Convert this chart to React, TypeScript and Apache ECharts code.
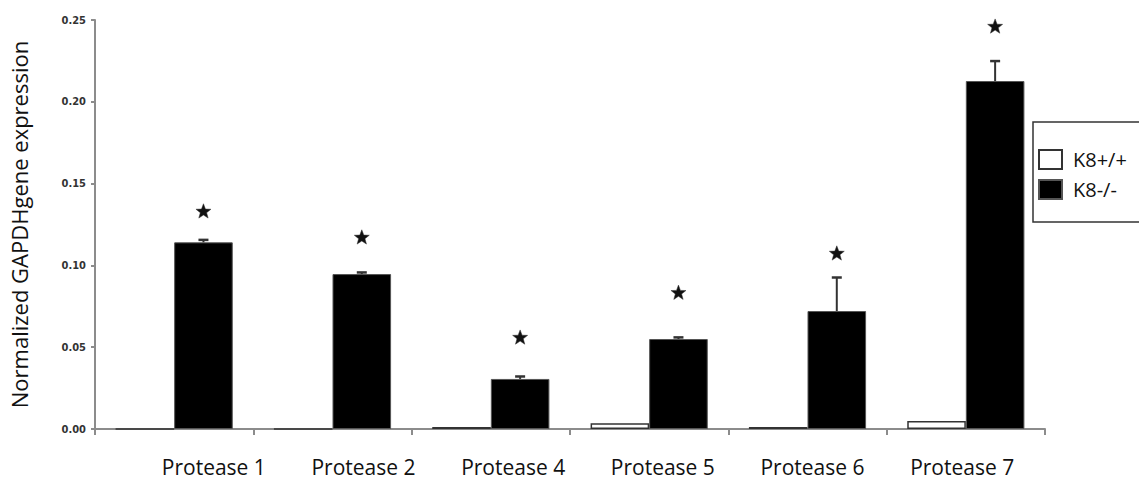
import React, { useEffect, useRef } from "react";
import * as echarts from "echarts";

const categories = ["Protease 1", "Protease 2", "Protease 4", "Protease 5", "Protease 6", "Protease 7"];
const wildType = [0, 0, 0.0012, 0.0035, 0.0012, 0.0049];
const knockout = [0.1141, 0.0947, 0.0306, 0.055, 0.0721, 0.2127];
const knockoutErr = [0.0015, 0.001, 0.0015, 0.001, 0.0205, 0.0122];
const starLevel = [0.1333, 0.1174, 0.0562, 0.0836, 0.1076, 0.2463];
const yTicks = [0, 0.05, 0.1, 0.15, 0.2, 0.25];

const STAR =
  "M0,-1 L0.25,-0.33 L0.95,-0.31 L0.40,0.13 L0.59,0.81 L0,0.42 L-0.59,0.81 L-0.40,0.13 L-0.95,-0.31 L-0.25,-0.33 Z";

export default function App() {
  const ref = useRef<HTMLDivElement>(null);
  useEffect(() => {
    document.body.style.margin = "0";
    const chart = echarts.init(ref.current!, null, { renderer: "svg" });
    const catGap = 0.26;
    chart.setOption({
      animation: false,
      backgroundColor: "#ffffff",
      legend: {
        orient: "vertical",
        left: 1033,
        top: 122,
        data: ["K8+/+", "K8-/-"],
        icon: "rect",
        itemWidth: 23,
        itemHeight: 19,
        itemGap: 9,
        padding: [27, 60, 22, 5],
        borderColor: "#333333",
        borderWidth: 1.5,
        textStyle: { fontFamily: "Open Sans", fontSize: 20, color: "#111111", padding: [0, 0, 0, 6] },
      },
      grid: [
        { left: 95, right: 94, top: 20, bottom: 50 },
        { left: 139, width: 898, top: 20, bottom: 50 },
      ],
      xAxis: [
        {
          type: "category",
          data: categories,
          gridIndex: 0,
          axisLine: { lineStyle: { color: "#8c8c8c", width: 2 } },
          axisTick: { show: true, length: 6, lineStyle: { color: "#8c8c8c", width: 2 } },
          axisLabel: { show: false },
        },
        {
          type: "category",
          data: categories,
          gridIndex: 1,
          axisLine: { show: false },
          axisTick: { show: false },
          axisLabel: {
            margin: 27,
            fontFamily: "Open Sans",
            fontSize: 21,
            color: "#111111",
          },
        },
      ],
      yAxis: [
        {
          type: "value",
          gridIndex: 0,
          min: yTicks[0],
          max: yTicks[yTicks.length - 1],
          interval: 0.05,
          name: "Normalized GAPDHgene expression",
          nameLocation: "middle",
          nameGap: 65,
          nameTextStyle: { fontFamily: "Open Sans", fontSize: 22, color: "#111111" },
          splitLine: { show: false },
          axisLine: { show: true, lineStyle: { color: "#8c8c8c", width: 2 } },
          axisTick: { show: true, length: 4, lineStyle: { color: "#8c8c8c", width: 2 } },
          axisLabel: {
            formatter: (v: number) => v.toFixed(2),
            fontFamily: "DejaVu Sans Condensed",
            fontWeight: "bold",
            fontSize: 11,
            color: "#333333",
            margin: 9,
          },
        },
        { type: "value", gridIndex: 1, show: false, min: 0, max: 0.25 },
      ],
      series: [
        {
          name: "K8+/+",
          type: "bar",
          data: wildType,
          barGap: "0%",
          barCategoryGap: catGap * 100 + "%",
          itemStyle: { color: "#ffffff", borderColor: "#333333", borderWidth: 1.5 },
        },
        {
          name: "K8-/-",
          type: "bar",
          data: knockout,
          itemStyle: { color: "#000000", borderColor: "#555555", borderWidth: 1 },
        },
        {
          type: "custom",
          name: "marks",
          silent: true,
          encode: { x: 0, y: 1 },
          data: categories.map((c, i) => [i, knockout[i], knockoutErr[i], starLevel[i]]),
          renderItem: (params: any, api: any) => {
            const idx = api.value(0);
            const val = api.value(1);
            const err = api.value(2);
            const star = api.value(3);
            const band = api.size([1, 0])[0];
            const x = api.coord([idx, 0])[0] + (band * (1 - catGap)) / 4;
            const yBase = api.coord([idx, val])[1];
            const yTop = api.coord([idx, val + err])[1];
            const yStar = api.coord([idx, star])[1];
            const cap = 5;
            return {
              type: "group",
              children: [
                {
                  type: "line",
                  shape: { x1: x, y1: yBase, x2: x, y2: yTop },
                  style: { stroke: "#333333", lineWidth: 2 },
                },
                {
                  type: "line",
                  shape: { x1: x - cap, y1: yTop, x2: x + cap, y2: yTop },
                  style: { stroke: "#333333", lineWidth: 2.5 },
                },
                {
                  type: "path",
                  shape: { pathData: STAR, x: x - 7.5, y: yStar - 7.5, width: 15, height: 15 },
                  style: { fill: "#111111", stroke: "#333333", lineWidth: 0.5 },
                },
              ],
            };
          },
        },
      ],
    });
    return () => chart.dispose();
  }, []);
  return <div ref={ref} style={{ width: 1139, height: 479 }} />;
}
